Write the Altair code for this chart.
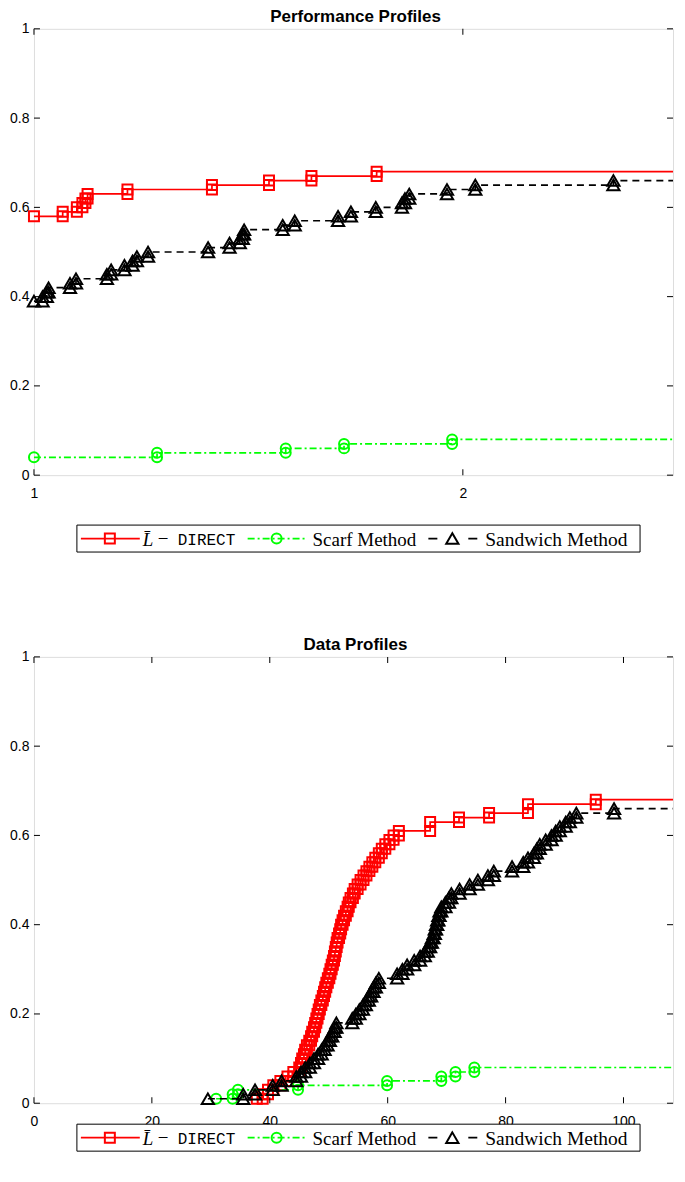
import altair as alt
import pandas as pd

# ---------------- Performance profiles: tau and fraction after each jump ----------------
perf_tau_max = 2.49
perf_ldirect_tau = [1.0, 1.067, 1.100, 1.113, 1.120, 1.125, 1.218, 1.415, 1.548, 1.647, 1.799]
perf_ldirect_rho = [0.58, 0.59, 0.60, 0.61, 0.62, 0.63, 0.64, 0.65, 0.66, 0.67, 0.68]
perf_scarf_tau = [1.0, 1.287, 1.587, 1.723, 1.975]
perf_scarf_rho = [0.04, 0.05, 0.06, 0.07, 0.08]
perf_sandwich_tau = [1.0, 1.020, 1.030, 1.034, 1.084, 1.098, 1.170, 1.180, 1.211, 1.230,
                     1.240, 1.266, 1.406, 1.456, 1.480, 1.487, 1.490, 1.580, 1.608, 1.709,
                     1.739, 1.797, 1.858, 1.865, 1.875, 1.963, 2.029, 2.351]
perf_sandwich_rho = [0.39, 0.40, 0.41, 0.42, 0.43, 0.44, 0.45, 0.46, 0.47, 0.48,
                     0.49, 0.50, 0.51, 0.52, 0.53, 0.54, 0.55, 0.56, 0.57, 0.58,
                     0.59, 0.60, 0.61, 0.62, 0.63, 0.64, 0.65, 0.66]

# ---------------- Data profiles: budget and fraction after each jump ----------------
data_k_max = 108.4
data_ldirect_k = [37.8, 38.8, 39.7, 40.6, 41.8, 43.0, 44.0, 45.0, 45.3, 45.5,
                  45.8, 46.0, 46.3, 46.7, 47.0, 47.2, 47.5, 47.7, 47.9, 48.1,
                  48.3, 48.5, 48.75, 49.0, 49.2, 49.4, 49.6, 49.85, 50.1, 50.3,
                  50.5, 50.7, 50.9, 51.05, 51.2, 51.35, 51.5, 51.75, 51.95, 52.1,
                  52.35, 52.6, 52.9, 53.2, 53.4, 53.7, 54.1, 54.4, 54.9, 55.4,
                  55.9, 56.4, 56.9, 57.4, 57.9, 58.5, 59.0, 59.6, 60.3, 61.0,
                  61.9, 67.2, 72.1, 77.2, 83.8, 95.3]
data_ldirect_frac = [0.01, 0.02, 0.03, 0.04, 0.05, 0.06, 0.07, 0.08, 0.09, 0.10,
                     0.11, 0.12, 0.13, 0.14, 0.15, 0.16, 0.17, 0.18, 0.19, 0.20,
                     0.21, 0.22, 0.23, 0.24, 0.25, 0.26, 0.27, 0.28, 0.29, 0.30,
                     0.31, 0.32, 0.33, 0.34, 0.35, 0.36, 0.37, 0.38, 0.39, 0.40,
                     0.41, 0.42, 0.43, 0.44, 0.45, 0.46, 0.47, 0.48, 0.49, 0.50,
                     0.51, 0.52, 0.53, 0.54, 0.55, 0.56, 0.57, 0.58, 0.59, 0.60,
                     0.61, 0.63, 0.64, 0.65, 0.67, 0.68]
data_scarf_k = [30.9, 33.7, 34.6, 44.8, 59.9, 69.1, 71.5, 74.7]
data_scarf_frac = [0.01, 0.02, 0.03, 0.04, 0.05, 0.06, 0.07, 0.08]
data_sandwich_k = [29.5, 35.5, 37.5, 40.5, 42.0, 44.5, 45.3, 46.0, 46.8, 47.5,
                   48.2, 48.8, 49.3, 49.8, 50.2, 50.6, 51.0, 51.3, 54.0, 54.6,
                   55.2, 55.8, 56.3, 56.8, 57.2, 57.6, 58.0, 58.5, 61.6, 62.5,
                   63.3, 64.5, 65.5, 66.3, 66.8, 67.2, 67.5, 67.8, 68.0, 68.2,
                   68.4, 68.6, 68.8, 69.1, 69.8, 70.4, 70.8, 72.2, 73.9, 75.3,
                   77.0, 78.0, 81.1, 83.0, 83.8, 84.8, 85.3, 85.8, 86.8, 87.8,
                   88.5, 89.2, 90.2, 90.9, 92.0, 98.4]
data_sandwich_frac = [0.01, 0.02, 0.03, 0.04, 0.05, 0.06, 0.07, 0.08, 0.09, 0.10,
                      0.11, 0.12, 0.13, 0.14, 0.15, 0.16, 0.17, 0.18, 0.19, 0.20,
                      0.21, 0.22, 0.23, 0.24, 0.25, 0.26, 0.27, 0.28, 0.29, 0.30,
                      0.31, 0.32, 0.33, 0.34, 0.35, 0.36, 0.37, 0.38, 0.39, 0.40,
                      0.41, 0.42, 0.43, 0.44, 0.45, 0.46, 0.47, 0.48, 0.49, 0.50,
                      0.51, 0.52, 0.53, 0.54, 0.55, 0.56, 0.57, 0.58, 0.59, 0.60,
                      0.61, 0.62, 0.63, 0.64, 0.65, 0.66]

y_ticks = [0, 0.2, 0.4, 0.6, 0.8, 1]
perf_x_ticks = [1, 2]
data_x_ticks = [0, 20, 40, 60, 80, 100]

# ---------------- styling ----------------
W, H = 640, 447
RED, GREEN, BLACK = "#ff0000", "#00ff00", "#000000"
SANS = "Liberation Sans"
SERIF = "Liberation Serif"
MONO = "Liberation Mono"
DASH_DOT = [7, 3, 2, 3]
DASHED = [7, 5]
LINE_W = 1.7
MARK_W = 2.0
TICK_LEN = 6


def stair_frames(xs, ys, xmax):
    line = pd.DataFrame({"x": list(xs) + [xmax], "y": list(ys) + [ys[-1]]})
    mx, my = [xs[0]], [ys[0]]
    for i in range(1, len(xs)):
        mx += [xs[i], xs[i]]
        my += [ys[i - 1], ys[i]]
    return line, pd.DataFrame({"x": mx, "y": my})


def panel(series, xdomain, xticks, title, legend_top):
    xs = alt.Scale(domain=xdomain, nice=False, zero=False)
    ys = alt.Scale(domain=[0, 1], nice=False)
    main_x = alt.Axis(values=xticks, ticks=False, tickSize=0, domain=False, grid=False,
                      labelFont=SANS, labelFontSize=14, labelColor="black", labelPadding=11,
                      title=None, labelFlush=False)
    main_y = alt.Axis(values=y_ticks, ticks=False, tickSize=0, domain=False, grid=False,
                      labelFont=SANS, labelFontSize=14, labelColor="black", labelPadding=5,
                      format="~g", title=None)

    def X(field):
        return alt.X(field, scale=xs, axis=main_x, title=None)

    def Y(field):
        return alt.Y(field, scale=ys, axis=main_y, title=None)

    layers = []
    for xsr, ysr, color, dash, shape, size in series:
        ldf, mdf = stair_frames(xsr, ysr, xdomain[1])
        line_kwargs = dict(interpolate="step-after", color=color, strokeWidth=LINE_W)
        if dash:
            line_kwargs["strokeDash"] = dash
        layers.append(alt.Chart(ldf).mark_line(**line_kwargs).encode(x=X("x:Q"), y=Y("y:Q")))
        layers.append(alt.Chart(mdf).mark_point(shape=shape, size=size, color=color,
                                                 filled=False, strokeWidth=MARK_W, opacity=1)
                      .encode(x=X("x:Q"), y=Y("y:Q")))

    # inward ticks on all four sides of the box
    ytk = pd.DataFrame({"t": y_ticks})
    xtk = pd.DataFrame({"t": xticks})
    for xpos in (TICK_LEN / 2, W - TICK_LEN / 2):
        layers.append(alt.Chart(ytk).mark_tick(orient="horizontal", size=TICK_LEN, thickness=1,
                                               color="black", opacity=1).encode(
            y=Y("t:Q"), x=alt.value(xpos)))
    for ypos in (TICK_LEN / 2, H - TICK_LEN / 2):
        layers.append(alt.Chart(xtk).mark_tick(orient="vertical", size=TICK_LEN, thickness=1,
                                               color="black", opacity=1).encode(
            x=X("t:Q"), y=alt.value(ypos)))

    one = pd.DataFrame({"a": [0]})
    # title drawn as text above the plot area
    layers.append(alt.Chart(one).mark_text(text=title, font=SANS, fontSize=17, fontWeight="bold",
                                           align="center", baseline="alphabetic", color="black").encode(
        x=alt.value(322), y=alt.value(-7)))

    # legend box (drawn below the plot)
    lt, lb = legend_top, legend_top + 27
    lc = (lt + lb) / 2
    layers.append(alt.Chart(one).mark_rect(fill="white", stroke="black", strokeWidth=1).encode(
        x=alt.value(43), x2=alt.value(607), y=alt.value(lt), y2=alt.value(lb)))
    # red item
    layers.append(alt.Chart(one).mark_rule(color=RED, strokeWidth=LINE_W).encode(
        x=alt.value(47), x2=alt.value(106), y=alt.value(lc)))
    layers.append(alt.Chart(one).mark_point(shape="square", size=100, color=RED, filled=False,
                                            strokeWidth=MARK_W, opacity=1).encode(
        x=alt.value(76), y=alt.value(lc)))
    layers.append(alt.Chart(one).mark_text(text="L\u0304", font=SERIF, fontStyle="italic",
                                           fontSize=19, align="left", baseline="middle").encode(
        x=alt.value(109), y=alt.value(lc + 1)))
    layers.append(alt.Chart(one).mark_text(text="\u2212", font=SERIF,
                                           fontSize=19, align="left", baseline="middle").encode(
        x=alt.value(124), y=alt.value(lc)))
    layers.append(alt.Chart(one).mark_text(text="DIRECT", font=MONO,
                                           fontSize=16, align="left", baseline="middle").encode(
        x=alt.value(144), y=alt.value(lc + 1)))
    # green item
    layers.append(alt.Chart(one).mark_rule(color=GREEN, strokeWidth=LINE_W, strokeDash=DASH_DOT).encode(
        x=alt.value(214), x2=alt.value(273), y=alt.value(lc)))
    layers.append(alt.Chart(one).mark_point(shape="circle", size=100, color=GREEN, filled=False,
                                            strokeWidth=MARK_W, opacity=1).encode(
        x=alt.value(243), y=alt.value(lc)))
    layers.append(alt.Chart(one).mark_text(text="Scarf Method", font=SERIF,
                                           fontSize=19, align="left", baseline="middle").encode(
        x=alt.value(279), y=alt.value(lc + 1)))
    # black item
    layers.append(alt.Chart(one).mark_rule(color=BLACK, strokeWidth=LINE_W, strokeDash=[9, 31, 9]).encode(
        x=alt.value(395), x2=alt.value(444), y=alt.value(lc)))
    layers.append(alt.Chart(one).mark_point(shape="triangle-up", size=150, color=BLACK, filled=False,
                                            strokeWidth=MARK_W, opacity=1).encode(
        x=alt.value(419), y=alt.value(lc)))
    layers.append(alt.Chart(one).mark_text(text="Sandwich Method", font=SERIF,
                                           fontSize=19.5, align="left", baseline="middle").encode(
        x=alt.value(452), y=alt.value(lc + 1)))

    return alt.layer(*layers).properties(width=W, height=H)


top = panel(
    [
        (perf_ldirect_tau, perf_ldirect_rho, RED, None, "square", 100),
        (perf_scarf_tau, perf_scarf_rho, GREEN, DASH_DOT, "circle", 100),
        (perf_sandwich_tau, perf_sandwich_rho, BLACK, DASHED, "triangle-up", 150),
    ],
    [1, perf_tau_max], perf_x_ticks, "Performance Profiles", 497,
)
bottom = panel(
    [
        (data_ldirect_k, data_ldirect_frac, RED, None, "square", 100),
        (data_scarf_k, data_scarf_frac, GREEN, DASH_DOT, "circle", 100),
        (data_sandwich_k, data_sandwich_frac, BLACK, DASHED, "triangle-up", 150),
    ],
    [0, data_k_max], data_x_ticks, "Data Profiles", 468,
)

chart = alt.vconcat(top, bottom, spacing=82).properties(
    padding={"left": 1, "top": -2, "right": 0, "bottom": 0}
).configure_view(stroke="black", strokeWidth=1).configure(background="white")

chart.save("out.html", embed_options={"renderer": "svg", "actions": False})
